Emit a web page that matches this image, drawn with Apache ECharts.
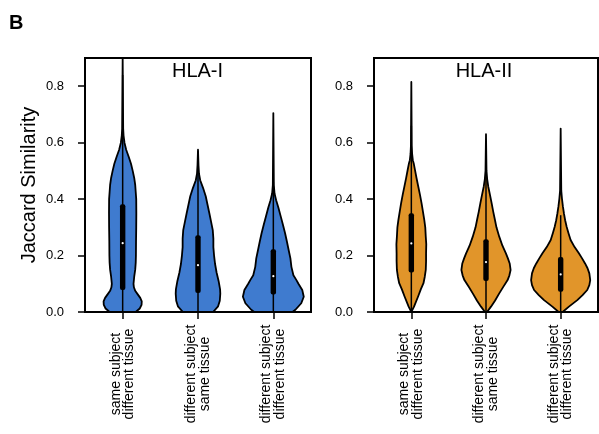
<!DOCTYPE html>
<html>
<head>
<meta charset="utf-8">
<script src="https://cdn.jsdelivr.net/npm/echarts@6/dist/echarts.min.js"></script>
<style>html,body{margin:0;padding:0;background:#fff;}#chart{width:599px;height:434px;}</style>
</head>
<body>
<div id="chart"></div>
<script>
// ---- data ----
const categories = ['same subject\ndifferent tissue', 'different subject\nsame tissue', 'different subject\ndifferent tissue'];
const yTicks = [0, 0.2, 0.4, 0.6, 0.8];
const Y_MAX = 0.9;

// density profiles: [Jaccard value, relative density half-width]
const hlaI_sameSubjDiffTissue = [[0,13],[0.0125,17],[0.025,18.8],[0.0375,19],[0.05,17.5],[0.0625,15],[0.075,12.5],[0.0875,11.2],[0.1,10.8],[0.125,11.5],[0.15,12.5],[0.175,13],[0.2,13.2],[0.25,13.3],[0.3,13.5],[0.35,13.6],[0.4,13.5],[0.425,13],[0.45,12.5],[0.475,11.5],[0.5,10],[0.525,8.3],[0.55,6],[0.575,3.5],[0.6,1.8],[0.625,0.9],[0.65,0.5]];
const hlaI_diffSubjSameTissue = [[0,15],[0.02,20],[0.04,21.7],[0.065,22.2],[0.08,22],[0.11,20.5],[0.14,18.5],[0.17,17],[0.2,16],[0.23,15.3],[0.26,15.3],[0.29,14.7],[0.32,13],[0.35,11.3],[0.38,9.5],[0.41,7.7],[0.44,5],[0.467,2.2],[0.49,1],[0.52,0.5]];
const hlaI_diffSubjDiffTissue = [[0,19],[0.008,22],[0.031,27.8],[0.054,30.3],[0.078,28.8],[0.1,25],[0.113,23],[0.13,20],[0.16,18],[0.19,17],[0.219,15.3],[0.25,13.5],[0.279,11.7],[0.31,9.5],[0.337,7.5],[0.37,5],[0.396,2.8],[0.42,1.2],[0.45,0.5]];

const hlaII_sameSubjDiffTissue = [[0,0],[0.019,2.7],[0.054,6.7],[0.08,9.5],[0.102,12.2],[0.125,13.5],[0.149,14.5],[0.18,14.8],[0.208,14.8],[0.24,15],[0.267,14.5],[0.3,14],[0.326,13],[0.355,11.7],[0.385,10.3],[0.415,8.7],[0.444,7],[0.475,5.2],[0.503,3.7],[0.525,2.5],[0.538,1.5],[0.56,0.8],[0.59,0.4]];
const hlaII_diffSubjSameTissue = [[0,1],[0.019,5],[0.04,9],[0.066,13.3],[0.09,17.5],[0.113,21.7],[0.13,23.5],[0.149,24.7],[0.172,23.8],[0.19,22],[0.208,20],[0.235,16.5],[0.267,13.3],[0.3,10.5],[0.326,9],[0.355,7.3],[0.385,5.7],[0.415,4],[0.444,2.3],[0.47,1.2],[0.5,0.5]];
const hlaII_diffSubjDiffTissue = [[0,2],[0.019,8.3],[0.042,16.7],[0.06,22],[0.078,26.7],[0.095,28.8],[0.113,29.7],[0.137,28.8],[0.155,27],[0.172,24.5],[0.19,21.5],[0.208,18.3],[0.23,14],[0.255,10],[0.28,7.8],[0.302,6],[0.325,4.5],[0.349,3.3],[0.375,2.2],[0.402,1.3],[0.43,0.6]];

// box statistics per category
const hlaI_min = [0, 0, 0];
const hlaI_q1 = [0.078, 0.067, 0.062];
const hlaI_median = [0.244, 0.166, 0.127];
const hlaI_q3 = [0.382, 0.272, 0.222];
const hlaI_whiskerHigh = [0.84, 0.57, 0.46];
const hlaI_max = [0.95, 0.575, 0.705];

const hlaII_min = [0, 0, 0];
const hlaII_q1 = [0.14, 0.11, 0.072];
const hlaII_median = [0.243, 0.177, 0.133];
const hlaII_q3 = [0.35, 0.258, 0.195];
const hlaII_whiskerHigh = [0.66, 0.48, 0.343];
const hlaII_max = [0.815, 0.63, 0.65];

// ---- chart ----
const REF_BAND = 75;
function makeRender(profiles, st, color) {
  return function (params, api) {
    const i = api.value(0);
    const band = api.size([1, 0])[0];
    const k = band / REF_BAND;
    const cx = api.coord([i, 0])[0];
    const clampV = v => Math.min(v, Y_MAX);
    const right = [], left = [];
    profiles[i].forEach(function (p) {
      const y = api.coord([i, p[0]])[1];
      right.push([cx + p[1] * k, y]);
      left.push([cx - p[1] * k, y]);
    });
    const topY = api.coord([i, clampV(st.max[i])])[1];
    const pts = right.concat([[cx, topY]]).concat(left.reverse());
    const yq1 = api.coord([i, st.q1[i]])[1];
    const yq3 = api.coord([i, st.q3[i]])[1];
    const ymed = api.coord([i, st.median[i]])[1];
    const ywl = api.coord([i, st.min[i]])[1];
    const ywh = api.coord([i, clampV(st.whiskerHigh[i])])[1];
    return {
      type: 'group',
      children: [
        { type: 'polygon', shape: { points: pts }, style: { fill: color, stroke: '#000', lineWidth: 1.8, lineJoin: 'round' } },
        { type: 'line', shape: { x1: cx, y1: ywl, x2: cx, y2: ywh }, style: { stroke: '#000', lineWidth: 1.5 } },
        { type: 'rect', shape: { x: cx - 2.7, y: yq3, width: 5.4, height: yq1 - yq3, r: 2 }, style: { fill: '#000' } },
        { type: 'circle', shape: { cx: cx, cy: ymed, r: 1.1 }, style: { fill: '#fff' } }
      ]
    };
  };
}

const chart = echarts.init(document.getElementById('chart'), null, { renderer: 'canvas' });
const FONT = '"Liberation Sans", Arial, Helvetica, sans-serif';

function xAxisCfg(gi) {
  return {
    type: 'category', gridIndex: gi, data: categories,
    axisLine: { show: true, lineStyle: { color: '#000', width: 2 } },
    axisTick: { show: true, alignWithLabel: true, length: 7, lineStyle: { color: '#000', width: 1.5 } },
    axisLabel: { interval: 0, rotate: 90, align: 'center', verticalAlign: 'middle', margin: 62, fontSize: 14, lineHeight: 13.5, color: '#000', fontFamily: FONT },
    splitLine: { show: false }
  };
}
function yAxisCfg(gi, name) {
  return {
    type: 'value', gridIndex: gi, min: 0, max: Y_MAX, interval: 0.2,
    name: name, nameLocation: 'middle', nameGap: 46,
    nameTextStyle: { fontSize: 20, color: '#000', fontFamily: FONT },
    axisLine: { show: true, lineStyle: { color: '#000', width: 2 } },
    axisTick: { show: true, length: 7, customValues: yTicks, lineStyle: { color: '#000', width: 1.5 } },
    axisLabel: { customValues: yTicks, margin: 21, fontSize: 13, color: '#000', fontFamily: FONT, formatter: v => v.toFixed(1) },
    splitLine: { show: false }
  };
}

chart.setOption({
  animation: false,
  backgroundColor: '#fff',
  title: [
    { text: 'B', left: 9, top: 13, padding: 0, textStyle: { fontSize: 20, fontWeight: 'bold', color: '#000', fontFamily: FONT } },
    { text: 'HLA-I', left: 197.5, top: 61, padding: 0, textAlign: 'center', textStyle: { fontSize: 20, fontWeight: 'normal', color: '#000', fontFamily: FONT } },
    { text: 'HLA-II', left: 484, top: 61, padding: 0, textAlign: 'center', textStyle: { fontSize: 20, fontWeight: 'normal', color: '#000', fontFamily: FONT } }
  ],
  grid: [
    { left: 85, top: 58, width: 226, height: 254, show: true, borderColor: '#000', borderWidth: 2, backgroundColor: 'transparent', outerBoundsMode: 'none', containLabel: false },
    { left: 374, top: 58, width: 224, height: 254, show: true, borderColor: '#000', borderWidth: 2, backgroundColor: 'transparent', outerBoundsMode: 'none', containLabel: false }
  ],
  xAxis: [xAxisCfg(0), xAxisCfg(1)],
  yAxis: [yAxisCfg(0, 'Jaccard Similarity'), yAxisCfg(1, '')],
  series: [
    {
      type: 'custom', xAxisIndex: 0, yAxisIndex: 0, clip: true,
      data: [[0], [1], [2]], encode: { x: 0 },
      renderItem: makeRender([hlaI_sameSubjDiffTissue, hlaI_diffSubjSameTissue, hlaI_diffSubjDiffTissue],
        { min: hlaI_min, q1: hlaI_q1, median: hlaI_median, q3: hlaI_q3, whiskerHigh: hlaI_whiskerHigh, max: hlaI_max }, '#3F7BCF')
    },
    {
      type: 'custom', xAxisIndex: 1, yAxisIndex: 1, clip: true,
      data: [[0], [1], [2]], encode: { x: 0 },
      renderItem: makeRender([hlaII_sameSubjDiffTissue, hlaII_diffSubjSameTissue, hlaII_diffSubjDiffTissue],
        { min: hlaII_min, q1: hlaII_q1, median: hlaII_median, q3: hlaII_q3, whiskerHigh: hlaII_whiskerHigh, max: hlaII_max }, '#E1952A')
    }
  ]
});
</script>
</body>
</html>
